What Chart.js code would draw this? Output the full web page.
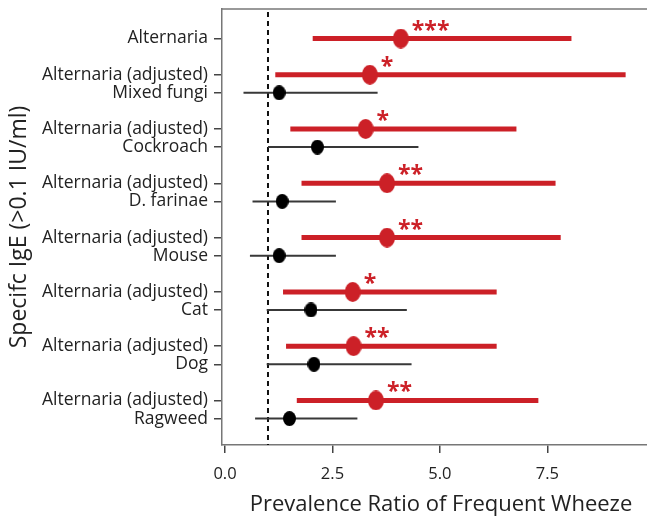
<!DOCTYPE html>
<html lang="en">
<head>
    <meta charset="UTF-8">
    <title>Prevalence Ratio of Frequent Wheeze</title>
    <script src="https://cdn.jsdelivr.net/npm/chart.js"></script>
    <style>
        body {
            margin: 0;
            padding: 0;
            background: #ffffff;
            overflow: hidden;
        }
        /* box runs off the right edge, like the cropped original */
        .wrap {
            width: 660px;
            height: 518px;
            position: relative;
        }
    </style>
</head>
<body>
    <div class="wrap">
        <canvas id="forestChart"></canvas>
    </div>

    <script>
        // Rows from top to bottom, '' = empty spacer row
        const rowLabels = [
            'Alternaria', '',
            'Alternaria (adjusted)', 'Mixed fungi', '',
            'Alternaria (adjusted)', 'Cockroach', '',
            'Alternaria (adjusted)', 'D. farinae', '',
            'Alternaria (adjusted)', 'Mouse', '',
            'Alternaria (adjusted)', 'Cat', '',
            'Alternaria (adjusted)', 'Dog', '',
            'Alternaria (adjusted)', 'Ragweed'
        ];

        // Alternaria rows (red), top to bottom
        const altEstimate = [4.09, 3.37, 3.27, 3.77, 3.77, 2.97, 2.99, 3.51];
        const altLower    = [2.04, 1.17, 1.52, 1.78, 1.78, 1.35, 1.42, 1.67];
        const altUpper    = [8.06, 9.32, 6.78, 7.69, 7.81, 6.32, 6.32, 7.29];
        const altStars    = ['***', '*', '*', '**', '**', '*', '**', '**'];

        // Other allergens (black), top to bottom
        const otherEstimate = [1.26, 2.15, 1.33, 1.26, 2.00, 2.07, 1.50];
        const otherLower    = [0.43, 1.00, 0.64, 0.58, 0.97, 0.97, 0.70];
        const otherUpper    = [3.55, 4.50, 2.58, 2.58, 4.23, 4.34, 3.08];

        const xTicks = [0, 2.5, 5, 7.5];
        const refValue = 1;

        const RED = '#cc2027';
        const FONT = "'Open Sans', 'Liberation Sans', sans-serif";

        // which rows get which series
        const altRows = [];
        const otherRows = [];
        rowLabels.forEach((lab, i) => {
            if (lab === '') return;
            if (lab.indexOf('Alternaria') === 0) altRows.push(i); else otherRows.push(i);
        });
        const labelRows = altRows.concat(otherRows).sort((a, b) => a - b);

        function intervals(rows, lo, hi) {
            const out = [];
            rows.forEach((r, i) => {
                out.push({x: lo[i], y: r}, {x: hi[i], y: r}, {x: null, y: null});
            });
            return out;
        }

        // slightly tall dots, like the original
        function dot(color, w, h) {
            const c = document.createElement('canvas');
            c.width = w;
            c.height = h;
            const g = c.getContext('2d');
            g.fillStyle = color;
            g.beginPath();
            g.ellipse(w / 2, h / 2, w / 2, h / 2, 0, 0, Math.PI * 2);
            g.fill();
            return c;
        }

        const extras = {
            id: 'extras',
            beforeDatasetsDraw(chart) {
                const {ctx, chartArea, scales} = chart;
                const x = scales.x.getPixelForValue(refValue);
                ctx.save();
                // top border of the box
                ctx.strokeStyle = '#777';
                ctx.lineWidth = 1.5;
                ctx.beginPath();
                ctx.moveTo(chartArea.left, chartArea.top);
                ctx.lineTo(chartArea.right, chartArea.top);
                ctx.stroke();
                // reference line at 1
                ctx.strokeStyle = '#111';
                ctx.lineWidth = 2;
                ctx.setLineDash([5, 4]);
                ctx.beginPath();
                ctx.moveTo(x, chartArea.top + 3);
                ctx.lineTo(x, chartArea.bottom);
                ctx.stroke();
                ctx.restore();
            },
            afterDatasetsDraw(chart) {
                const {ctx} = chart;
                const meta = chart.getDatasetMeta(0);
                ctx.save();
                ctx.fillStyle = RED;
                ctx.font = 'bold 23px ' + FONT;
                ctx.textAlign = 'left';
                ctx.textBaseline = 'alphabetic';
                meta.data.forEach((pt, i) => {
                    ctx.fillText(altStars[i], pt.x + 11, pt.y - 1);
                });
                ctx.restore();
            }
        };

        const ctx = document.getElementById('forestChart').getContext('2d');
        const forestChart = new Chart(ctx, {
            type: 'scatter',
            data: {
                datasets: [
                    {
                        label: 'Alternaria',
                        data: altRows.map((r, i) => ({x: altEstimate[i], y: r})),
                        pointStyle: dot(RED, 16, 20),
                        pointRadius: 9
                    },
                    {
                        label: 'Allergen',
                        data: otherRows.map((r, i) => ({x: otherEstimate[i], y: r})),
                        pointStyle: dot('#000000', 13, 15),
                        pointRadius: 7
                    },
                    {
                        label: 'Alternaria CI',
                        data: intervals(altRows, altLower, altUpper),
                        showLine: true,
                        spanGaps: false,
                        borderColor: RED,
                        borderWidth: 5,
                        borderCapStyle: 'butt',
                        pointRadius: 0
                    },
                    {
                        label: 'Allergen CI',
                        data: intervals(otherRows, otherLower, otherUpper),
                        showLine: true,
                        spanGaps: false,
                        borderColor: '#383838',
                        borderWidth: 2,
                        borderCapStyle: 'butt',
                        pointRadius: 0
                    }
                ]
            },
            options: {
                responsive: true,
                maintainAspectRatio: false,
                animation: false,
                layout: {autoPadding: false, padding: {top: 9, right: 0, left: 0, bottom: 0}},
                plugins: {
                    legend: {display: false},
                    tooltip: {enabled: false}
                },
                scales: {
                    x: {
                        type: 'linear',
                        min: -0.07,
                        max: 10.12,
                        afterBuildTicks: s => { s.ticks = xTicks.map(v => ({value: v})); },
                        afterFit: s => { s.height = 73; s.paddingLeft = 0; s.paddingRight = 0; },
                        border: {display: true, color: '#777', width: 1.5},
                        grid: {drawOnChartArea: false, drawTicks: true, tickLength: 8, color: '#444', lineWidth: 1.5},
                        ticks: {
                            padding: 11,
                            color: '#222',
                            font: {family: FONT, size: 16.5},
                            callback: v => v.toFixed(1)
                        },
                        title: {
                            display: true,
                            text: 'Prevalence Ratio of Frequent Wheeze',
                            color: '#222',
                            font: {family: FONT, size: 22},
                            padding: {top: 0, bottom: 0}
                        }
                    },
                    y: {
                        type: 'linear',
                        reverse: true,
                        min: -1.63,
                        max: 22.46,
                        afterBuildTicks: s => { s.ticks = labelRows.map(v => ({value: v})); },
                        afterFit: s => { s.width = 222; s.paddingTop = 0; s.paddingBottom = 0; },
                        border: {display: true, color: '#777', width: 1.5},
                        grid: {drawOnChartArea: false, drawTicks: true, tickLength: 8, color: '#444', lineWidth: 1.5},
                        ticks: {
                            padding: 6,
                            color: '#222',
                            autoSkip: false,
                            font: {family: FONT, size: 17.5},
                            callback: v => rowLabels[v]
                        },
                        title: {
                            display: true,
                            text: 'Specifc IgE (>0.1 IU/ml)',
                            color: '#222',
                            font: {family: FONT, size: 23},
                            padding: {top: 6, bottom: 0}
                        }
                    }
                }
            },
            plugins: [extras]
        });
    </script>
</body>
</html>
